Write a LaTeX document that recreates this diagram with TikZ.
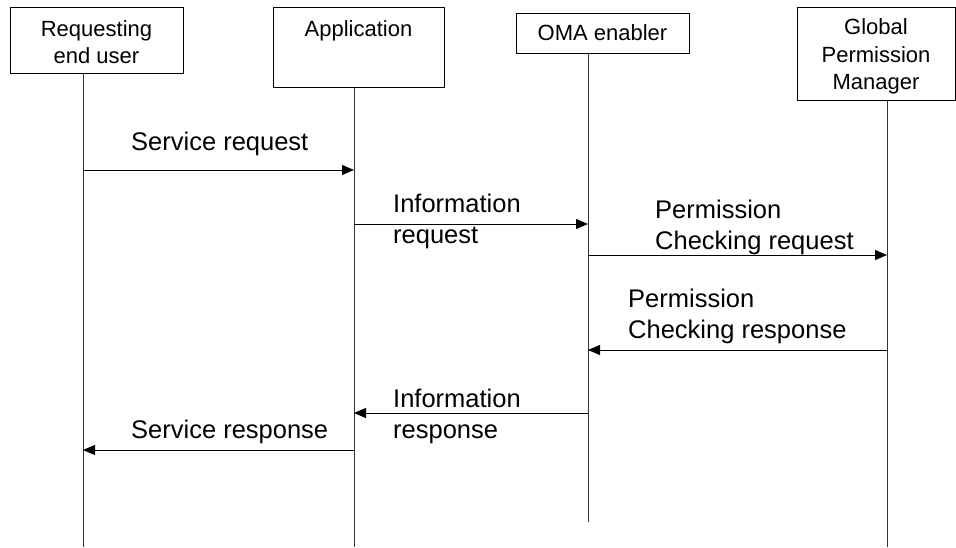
\documentclass[tikz,border=0pt]{standalone}
\usepackage{fontspec}
\setmainfont{Liberation Sans}
\usetikzlibrary{arrows.meta}

\begin{document}
\begin{tikzpicture}[x=1pt, y=-1pt,
	box/.style={draw, fill=white, line width=1pt, inner sep=0pt},
	boxtext/.style={inner sep=0pt, align=center, font=\fontsize{22}{27.5}\selectfont},
	life/.style={line width=1pt, draw=black!80},
	msg/.style={line width=1pt, -{Triangle[length=12pt, width=10pt]}},
	lbl/.style={anchor=west, inner sep=0pt, align=left, font=\fontsize{25.5}{31}\selectfont}]
	\useasboundingbox (0,0) rectangle (956,547);
	% Lifeline ends
	\coordinate (userL) at (83,547);
	\coordinate (appL) at (354,547);
	\coordinate (omaL) at (588,522);
	\coordinate (gpmL) at (887,547);
	% Nodes
	\node[box, minimum width=173, minimum height=66] (user) at (96.5,40) {};
	\node[boxtext] (usertext) at (96.5,42) {Requesting\\end user};
	\node[box, minimum width=171, minimum height=80] (app) at (358.5,47) {};
	\node[boxtext, anchor=base] (apptext) at (358.5,36) {Application};
	\node[box, minimum width=173, minimum height=40] (oma) at (602.5,33) {};
	\node[boxtext] (omatext) at (602.5,33) {OMA enabler};
	\node[box, minimum width=158, minimum height=93] (gpm) at (876,53.5) {};
	\node[boxtext] (gpmtext) at (876,56.5) {Global\\Permission\\Manager};
	% Lifelines
	\foreach \n in {user,app,oma,gpm} {
		\draw[life] (\n L |- \n.south) -- (\n L);
	}
	% Messages
	\foreach \from/\to/\y in {userL/appL/170, appL/omaL/224, omaL/gpmL/255, gpmL/omaL/350, omaL/appL/413, appL/userL/450} {
		\draw[msg] (\from |- 0,\y) -- (\to |- 0,\y);
	}
	\node[lbl] (sreq) at (131,143.5) {Service request};
	\node[lbl] (ireq) at (393,221) {Information\\request};
	\node[lbl] (preq) at (655,227) {Permission\\Checking request};
	\node[lbl] (pres) at (628,316) {Permission\\Checking response};
	\node[lbl] (ires) at (393,416) {Information\\response};
	\node[lbl] (sres) at (131,431.5) {Service response};
\end{tikzpicture}
\end{document}
